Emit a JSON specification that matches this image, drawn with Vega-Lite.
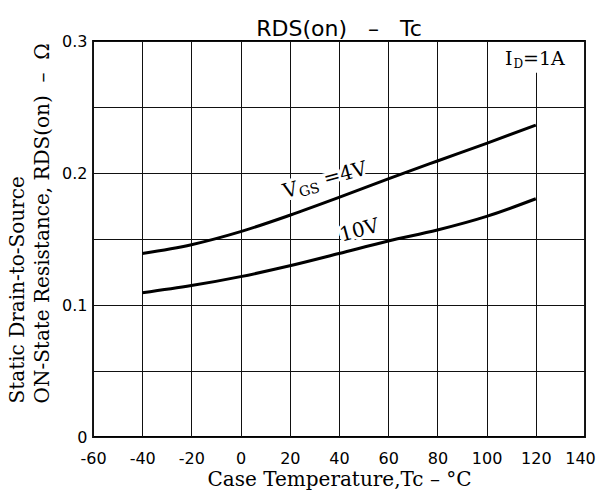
{
  "$schema": "https://vega.github.io/schema/vega-lite/v6.json",
  "width": 492,
  "height": 396,
  "autosize": {"type": "none"},
  "padding": {"left": 93, "top": 41, "right": 13, "bottom": 58},
  "background": "white",
  "title": {
    "text": "RDS(on)\u00a0\u00a0\u00a0–\u00a0\u00a0\u00a0Tc",
    "font": "DejaVu Sans",
    "fontSize": 22,
    "fontWeight": "normal",
    "color": "black",
    "anchor": "middle",
    "offset": -8
  },
  "config": {
    "view": {"stroke": "black", "strokeWidth": 1.8},
    "axis": {
      "labelFont": "DejaVu Sans",
      "labelFontSize": 16,
      "labelColor": "black",
      "titleFont": "DejaVu Serif",
      "titleFontSize": 20,
      "titleFontWeight": "normal",
      "titleColor": "black",
      "grid": true,
      "gridColor": "#111111",
      "gridWidth": 1,
      "ticks": false,
      "domain": false,
      "labelFlush": false,
      "labelOverlap": false,
      "labelBound": false
    }
  },
  "datasets": {
    "curves": [
      {"vgs": "4V", "t": -40, "r": 0.139},
      {"vgs": "4V", "t": -20, "r": 0.1457},
      {"vgs": "4V", "t": 0, "r": 0.1556},
      {"vgs": "4V", "t": 20, "r": 0.168},
      {"vgs": "4V", "t": 40, "r": 0.1815},
      {"vgs": "4V", "t": 60, "r": 0.1956},
      {"vgs": "4V", "t": 80, "r": 0.2091},
      {"vgs": "4V", "t": 100, "r": 0.2224},
      {"vgs": "4V", "t": 120, "r": 0.2363},
      {"vgs": "10V", "t": -40, "r": 0.1092},
      {"vgs": "10V", "t": -20, "r": 0.1147},
      {"vgs": "10V", "t": 0, "r": 0.1215},
      {"vgs": "10V", "t": 20, "r": 0.1297},
      {"vgs": "10V", "t": 40, "r": 0.139},
      {"vgs": "10V", "t": 60, "r": 0.1485},
      {"vgs": "10V", "t": 80, "r": 0.1568},
      {"vgs": "10V", "t": 100, "r": 0.1671},
      {"vgs": "10V", "t": 120, "r": 0.1805}
    ],
    "box": [{"t": 104, "t2": 139.4, "r": 0.276, "r2": 0.2992}],
    "angledMain": [
      {"text": "V", "t": 18.0, "r": 0.1808},
      {"text": "=4V", "t": 34.5, "r": 0.1905},
      {"text": "10V", "t": 41.1, "r": 0.148}
    ],
    "angledSub": [{"text": "GS", "t": 24.3, "r": 0.1818}],
    "idMain": [
      {"text": "I", "t": 107.5, "r": 0.2818},
      {"text": "=1A", "t": 114.8, "r": 0.2818}
    ],
    "idSub": [{"text": "D", "t": 110.9, "r": 0.2795}]
  },
  "encoding": {
    "x": {
      "field": "t",
      "type": "quantitative",
      "scale": {"domain": [-60, 140], "nice": false, "zero": false},
      "axis": {
        "title": "Case Temperature,Tc – °C",
        "values": [-60, -40, -20, 0, 20, 40, 60, 80, 100, 120, 140],
        "labelExpr": "replace(datum.label, '−', '-')",
        "labelPadding": 13,
        "labelOffset": {"condition": {"test": "datum.value == 140", "value": -5}, "value": 0},
        "titlePadding": 3
      }
    },
    "y": {
      "field": "r",
      "type": "quantitative",
      "scale": {"domain": [0, 0.3], "nice": false, "zero": false},
      "axis": {
        "title": ["Static Drain-to-Source", "ON-State Resistance, RDS(on)\u00a0\u00a0–\u00a0\u00a0Ω"],
        "values": [0, 0.05, 0.1, 0.15, 0.2, 0.25, 0.3],
        "labelExpr": "round(datum.value * 20) % 2 == 0 ? (datum.value == 0 ? '0' : format(datum.value, '.1f')) : ''",
        "labelPadding": 6,
        "titleAngle": 270,
        "titleAlign": "left",
        "titleBaseline": "alphabetic",
        "titleX": -70,
        "titleY": 362,
        "titleLineHeight": 25
      }
    }
  },
  "layer": [
    {
      "data": {"name": "box"},
      "mark": {"type": "rect", "fill": "white", "stroke": null},
      "encoding": {"x2": {"field": "t2"}, "y2": {"field": "r2"}}
    },
    {
      "data": {"name": "curves"},
      "mark": {"type": "line", "color": "black", "strokeWidth": 3, "interpolate": "monotone"},
      "encoding": {"detail": {"field": "vgs"}}
    },
    {
      "data": {"name": "angledMain"},
      "mark": {"type": "text", "font": "DejaVu Serif", "fontSize": 20, "angle": -15, "align": "left", "baseline": "alphabetic", "fill": "white", "stroke": "white", "strokeWidth": 6},
      "encoding": {"text": {"field": "text"}}
    },
    {
      "data": {"name": "angledSub"},
      "mark": {"type": "text", "font": "DejaVu Serif", "fontSize": 14, "angle": -15, "align": "left", "baseline": "alphabetic", "fill": "white", "stroke": "white", "strokeWidth": 6},
      "encoding": {"text": {"field": "text"}}
    },
    {
      "data": {"name": "angledMain"},
      "mark": {"type": "text", "font": "DejaVu Serif", "fontSize": 20, "angle": -15, "align": "left", "baseline": "alphabetic", "fill": "black"},
      "encoding": {"text": {"field": "text"}}
    },
    {
      "data": {"name": "angledSub"},
      "mark": {"type": "text", "font": "DejaVu Serif", "fontSize": 14, "angle": -15, "align": "left", "baseline": "alphabetic", "fill": "black"},
      "encoding": {"text": {"field": "text"}}
    },
    {
      "data": {"name": "idMain"},
      "mark": {"type": "text", "font": "DejaVu Serif", "fontSize": 19, "align": "left", "baseline": "alphabetic", "fill": "black"},
      "encoding": {"text": {"field": "text"}}
    },
    {
      "data": {"name": "idSub"},
      "mark": {"type": "text", "font": "DejaVu Serif", "fontSize": 12, "align": "left", "baseline": "alphabetic", "fill": "black"},
      "encoding": {"text": {"field": "text"}}
    }
  ]
}
